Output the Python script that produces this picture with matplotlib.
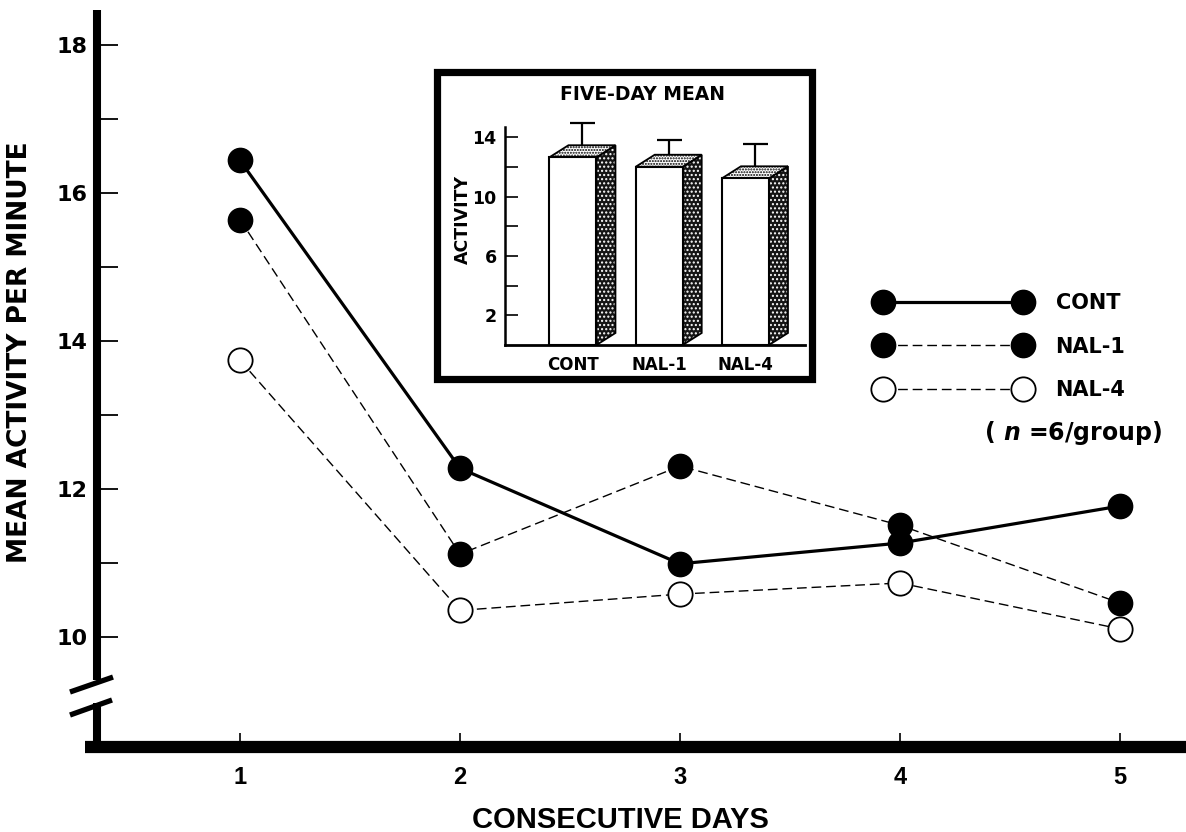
import matplotlib
matplotlib.use("Agg")
import matplotlib.pyplot as plt
import matplotlib.transforms as mtransforms
from matplotlib.patches import Polygon, Rectangle
from matplotlib.lines import Line2D

# ---- data -------------------------------------------------------------
days = [1, 2, 3, 4, 5]
cont = [16.44, 12.28, 10.99, 11.27, 11.77]
nal1 = [15.64, 11.12, 12.31, 11.51, 10.46]
nal4 = [13.74, 10.36, 10.58, 10.73, 10.11]

groups = ["CONT", "NAL-1", "NAL-4"]
five_day_mean = [12.66, 12.02, 11.24]
five_day_sem = [2.33, 1.80, 2.31]

y_ticks_main = [10, 12, 14, 16, 18]
y_ticks_inset = [2, 6, 10, 14]

# ---- style ------------------------------------------------------------
plt.rcParams["font.family"] = ["DejaVu Sans"]
plt.rcParams["font.weight"] = "bold"
plt.rcParams["mathtext.fontset"] = "custom"
plt.rcParams["mathtext.it"] = "DejaVu Sans:italic:bold"
plt.rcParams["mathtext.rm"] = "DejaVu Sans:bold"
plt.rcParams["hatch.linewidth"] = 1.0

W, H = 1186, 832
fig = plt.figure(figsize=(W / 100, H / 100), dpi=100)
fig.patch.set_facecolor("white")

narrow = ["Liberation Sans Narrow", "Liberation Sans"]


def fig_rect(x0, y_top, x1, y_bot):
    """Pixel box (top-left origin) -> figure fraction rect."""
    return [x0 / W, (H - y_bot) / H, (x1 - x0) / W, (y_bot - y_top) / H]


# ---- main axes --------------------------------------------------------
ax = fig.add_axes(fig_rect(97, 10, 1186, 747))
ax.set_xlim(0.35, 5.30)
ax.set_ylim(8.514, 18.473)
for s in ax.spines.values():
    s.set_visible(False)

marker_size = 17.5
dash = (0, (7, 3.5))
ax.plot(days, nal4, linestyle=dash, color="black", lw=1.0, marker="o",
        ms=marker_size, mfc="white", mec="black", mew=1.3, zorder=3)
ax.plot(days, nal1, linestyle=dash, color="black", lw=1.0, marker="o",
        ms=marker_size, mfc="black", mec="black", zorder=4)
ax.plot(days, cont, linestyle="-", color="black", lw=2.3, marker="o",
        ms=marker_size, mfc="black", mec="black", zorder=5)

# ticks
ax.set_yticks(y_ticks_main)
ax.set_yticks([11, 13, 15, 17], minor=True)
ax.set_xticks(days)
ax.set_xticklabels([str(d) for d in days])
ax.tick_params(axis="y", which="both", direction="in", length=15, width=1.3,
               pad=7, labelsize=16)
ax.tick_params(axis="x", which="both", direction="in", length=10, width=1.2,
               pad=14)
for lab in ax.get_xticklabels():
    lab.set_family(narrow)
    lab.set_fontsize(17)
    lab.set_weight("bold")

# axis lines with the break on the y axis
blend = mtransforms.blended_transform_factory(ax.transAxes, ax.transData)
ax.plot([0, 0], [9.42, 18.473], transform=blend, color="black", lw=5.8,
        solid_capstyle="butt", clip_on=False, zorder=6)
ax.plot([0, 0], [8.514, 9.11], transform=blend, color="black", lw=5.8,
        solid_capstyle="butt", clip_on=False, zorder=6)
ax.plot([-0.0248, 0.0147], [9.257, 9.459], transform=blend, color="black",
        lw=3.8, solid_capstyle="butt", clip_on=False, zorder=6)
ax.plot([-0.0248, 0.0138], [8.946, 9.149], transform=blend, color="black",
        lw=3.8, solid_capstyle="butt", clip_on=False, zorder=6)
ax.plot([-12 / 1089, 1], [0, 0], transform=ax.transAxes, color="black",
        lw=8.8, solid_capstyle="butt", clip_on=False, zorder=6)

fig.text(20 / W, 1 - 352 / H, "MEAN ACTIVITY PER MINUTE", rotation=90,
         ha="center", va="center", fontsize=19, fontweight="bold")
fig.text(620 / W, 1 - 820 / H, "CONSECUTIVE DAYS", ha="center", va="center",
         fontsize=21, fontweight="bold", family=narrow)

# ---- legend -----------------------------------------------------------
handles = [
    Line2D([], [], color="black", lw=2.3, marker="o", ms=marker_size,
           mfc="black", mec="black"),
    Line2D([], [], color="black", lw=1.0, linestyle=dash, marker="o",
           ms=marker_size, mfc="black", mec="black"),
    Line2D([], [], color="black", lw=1.0, linestyle=dash, marker="o",
           ms=marker_size, mfc="white", mec="black", mew=1.3),
]
leg = fig.legend(handles, groups, loc="upper left",
                 bbox_to_anchor=(866 / W, 1 - 283 / H), frameon=False,
                 numpoints=2, handlelength=7.35, handletextpad=1.25,
                 labelspacing=1.12, borderpad=0,
                 prop={"weight": "bold", "size": 15})
fig.text(1073 / W, 1 - 433 / H, r"( $\mathit{n}$ =6/group)", ha="center",
         va="center", fontsize=17, fontweight="bold")

# ---- inset: five-day mean --------------------------------------------
box = Rectangle((436.5 / W, 1 - 378.5 / H), 375 / W, 307 / H,
                transform=fig.transFigure, facecolor="white",
                edgecolor="black", lw=5.2, zorder=2)
fig.add_artist(box)

ins = fig.add_axes(fig_rect(505, 127, 805, 345), zorder=3)
ins.set_facecolor("none")
ins.set_xlim(-0.788, 2.69)
ins.set_ylim(0, 14.7)
ins.spines["top"].set_visible(False)
ins.spines["right"].set_visible(False)
ins.spines["left"].set_linewidth(1.8)
ins.spines["bottom"].set_linewidth(2.0)
ins.set_yticks(y_ticks_inset)
ins.set_yticks([4, 8, 12], minor=True)
ins.tick_params(axis="y", which="both", direction="in", length=9, width=1.2,
                pad=6, labelsize=12.5)
xpos = list(range(len(groups)))
ins.set_xticks(xpos)
ins.set_xticklabels(groups)
ins.tick_params(axis="x", length=0, pad=8, labelsize=12)

bar_w = 0.545
depth_x = 0.22
depth_y = 0.81
for x, m, e in zip(xpos, five_day_mean, five_day_sem):
    xl, xr = x - bar_w / 2, x + bar_w / 2
    eb = ins.errorbar([x + depth_x / 2], [m], yerr=[[0], [e]], fmt="none",
                      ecolor="black", elinewidth=1.6, capsize=9,
                      capthick=1.6, zorder=2)
    for art in eb.lines[1] + eb.lines[2]:
        art.set_clip_on(False)
    side = [(xr, 0), (xr + depth_x, depth_y), (xr + depth_x, m + depth_y),
            (xr, m)]
    ins.add_patch(Polygon(side, closed=True, facecolor="#151515",
                          edgecolor="white", hatch="....", lw=0, zorder=3))
    ins.add_patch(Polygon(side, closed=True, fill=False, edgecolor="black",
                          lw=1.3, zorder=4))
    top = [(xl, m), (xl + depth_x, m + depth_y), (xr + depth_x, m + depth_y),
           (xr, m)]
    ins.add_patch(Polygon(top, closed=True, facecolor="white",
                          edgecolor="black", hatch="......", lw=1.3,
                          zorder=4))
    ins.add_patch(Rectangle((xl, 0), bar_w, m, facecolor="white",
                            edgecolor="black", lw=1.5, zorder=5))

fig.text(643 / W, 1 - 95 / H, "FIVE-DAY MEAN", ha="center", va="center",
         fontsize=13.5, fontweight="bold")
fig.text(463 / W, 1 - 220 / H, "ACTIVITY", rotation=90, ha="center",
         va="center", fontsize=12.5, fontweight="bold")

fig.savefig("out.png", dpi=100, facecolor="white")
